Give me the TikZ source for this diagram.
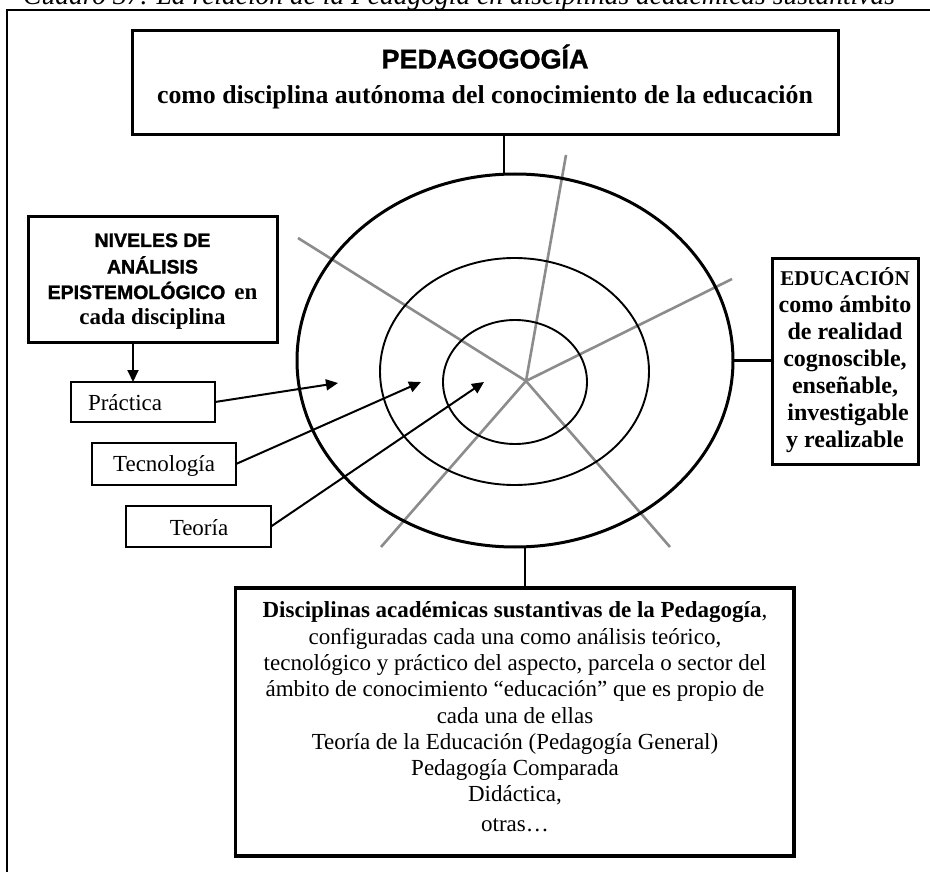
\documentclass[tikz,border=0pt]{standalone}
\usepackage{fontspec}
\setmainfont{Liberation Serif}
\setsansfont{Liberation Sans}
\newfontfamily\heavysans{Liberation Sans Bold}[FakeBold=1.3]
\newfontfamily\boldserif{Liberation Serif Bold}
\usetikzlibrary{shapes.geometric,arrows.meta}
\definecolor{spokegray}{RGB}{140,140,140}
\begin{document}
\begin{tikzpicture}[x=1pt,y=-1pt,
  thickbox/.style={draw,line width=3pt,inner sep=0pt,outer sep=0pt},
  thinbox/.style={draw,line width=1.3pt,inner sep=0pt,outer sep=0pt},
  ring/.style={draw,ellipse,inner sep=0pt,outer sep=0pt},
  conn/.style={line width=2.7pt},
  spoke/.style={line width=2.6pt,draw=spokegray},
  arr/.style={line width=2pt,-{Triangle[length=12pt,width=11pt]}},
  txt/.style={inner sep=0pt,outer sep=0pt,align=center},
  serif23/.style={font=\fontsize{23}{26.3}\selectfont},
  bserif23/.style={font=\bfseries\fontsize{23}{26}\selectfont},
  bsans/.style={font=\heavysans\fontsize{19.5}{22}\selectfont}
 ]
\useasboundingbox (0,0) rectangle (930,872);
\fill[white] (0,0) rectangle (930,872);

% caption (cut at the top of the picture)
\node[txt,anchor=base east,font=\itshape\fontsize{27.5}{30}\selectfont] (caption) at (895,4.5)
  {Cuadro 37. La relación de la Pedagogía en disciplinas académicas sustantivas};

% outer frame
\draw[line width=1.4pt] (7,10) rectangle (945,885);

% top box
\node[thickbox,minimum width=706pt,minimum height=104pt] (top) at (485,83) {};
\node[txt,anchor=base,font=\heavysans\fontsize{27}{30}\selectfont] (toptitle) at (485,68.5) {PEDAGOGOGÍA};
\node[txt,anchor=base,font=\bfseries\fontsize{25.8}{30}\selectfont] (topsub) at (485,103.5)
  {como disciplina autónoma del conocimiento de la educación};

% spokes
\coordinate (hub) at (526,381);
\coordinate (s1) at (566,155);
\coordinate (s2) at (298,238);
\coordinate (s3) at (732,279);
\coordinate (s4) at (381,547);
\coordinate (s5) at (670,547);
\draw[spoke] (hub) -- (s1);
\draw[spoke] (hub) -- (s2);
\draw[spoke] (hub) -- (s3);
\draw[spoke] (hub) -- (s4);
\draw[spoke] (hub) -- (s5);

% rings
\node[ring,line width=3pt,minimum width=436pt,minimum height=373pt] (ring3) at (515,360.5) {};
\node[ring,line width=1.9pt,minimum width=269pt,minimum height=227pt] (ring2) at (514.5,371.5) {};
\node[ring,line width=1.9pt,minimum width=144pt,minimum height=124pt] (ring1) at (515,382) {};

% left box: niveles
\node[thickbox,minimum width=249pt,minimum height=125pt] (niv) at (152.5,279.5) {};
\node[txt,anchor=base,bsans] (niv1) at (152.5,247) {NIVELES DE};
\node[txt,anchor=base,bsans] (niv2) at (152.5,273.5) {ANÁLISIS};
\node[txt,anchor=base,bserif23] (niv3) at (152.5,299)
  {{\heavysans\fontsize{19.5}{22}\selectfont EPISTEMOLÓGICO}\hspace{9pt}en};
\node[txt,anchor=base,bserif23] (niv4) at (152.5,324) {cada disciplina};

% level boxes
\node[thinbox,minimum width=144pt,minimum height=40pt] (prac) at (143,402) {};
\node[txt,anchor=base west,serif23] (practxt) at (88,410) {Práctica};
\node[thinbox,minimum width=144pt,minimum height=42pt] (tec) at (164,464) {};
\node[txt,anchor=base,serif23] (tectxt) at (164,471) {Tecnología};
\node[thinbox,minimum width=145pt,minimum height=41pt] (teo) at (198.5,526.5) {};
\node[txt,anchor=base,serif23] (teotxt) at (199,535) {Teoría};

% arrows
\coordinate (vx) at (133,0);
\draw[arr] (vx |- niv.south) -- (vx |- prac.north);
\coordinate (a1) at (338,383);
\coordinate (a2) at (421,382);
\coordinate (a3) at (484,382);
\draw[arr] (prac.east) -- (a1);
\draw[arr] (tec.east) -- (a2);
\draw[arr] (teo.east) -- (a3);

% right box
\node[thickbox,minimum width=146pt,minimum height=206pt] (edu) at (845,361) {};
\node[txt,font=\boldserif\fontsize{24}{27}\selectfont] (edutxt) at (845,361.5)
  {\strut{\boldserif\fontsize{21}{27}\selectfont EDUCACIÓN}\\como ámbito\\de realidad\\cognoscible,\\enseñable,\\\hspace*{6pt}investigable\\y realizable\strut};

% bottom box
\node[thickbox,line width=3.2pt,minimum width=558.5pt,minimum height=268pt] (disc) at (514.75,722) {};
\node[txt,serif23] (disctxt) at (515,719.3)
  {\strut\textbf{Disciplinas académicas sustantivas de la Pedagogía},\\
   configuradas cada una como análisis teórico,\\
   tecnológico y práctico del aspecto, parcela o sector del\\
   ámbito de conocimiento “educación” que es propio de\\
   cada una de ellas\\
   Teoría de la Educación (Pedagogía General)\\
   Pedagogía Comparada\\
   Didáctica,\\[3pt]
   otras…\strut};

% connectors
\coordinate (cx1) at (504,0);
\draw[conn] (cx1 |- top.south) -- (cx1 |- ring3.north);
\coordinate (cx2) at (525,0);
\draw[conn] (cx2 |- ring3.south) -- (cx2 |- disc.north);
\draw[conn] (ring3.east) -- (ring3.east -| edu.west);
\end{tikzpicture}
\end{document}
